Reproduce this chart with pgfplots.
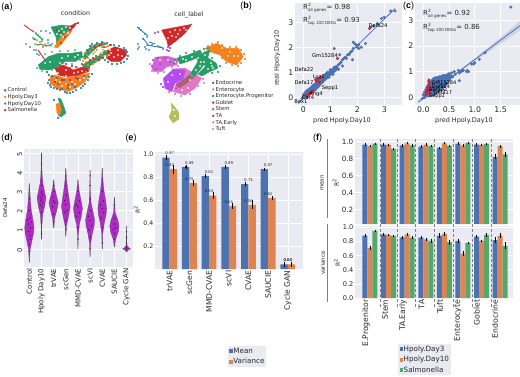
\documentclass[border=0pt]{standalone}
\usepackage{pgfplots}
\usepackage{fontspec}
\setmainfont{DejaVu Sans}
\newfontfamily\lib{Liberation Sans}
\pgfplotsset{compat=1.18}
\definecolor{bgc}{HTML}{EAEAF2}
\definecolor{sbb}{HTML}{4C72B0}
\definecolor{sbo}{HTML}{DD8452}
\definecolor{sbg}{HTML}{55A868}
\definecolor{sbr}{HTML}{C8242E}
\definecolor{tx}{HTML}{262626}
\definecolor{ublue}{HTML}{1F77B4}
\definecolor{uorange}{HTML}{F5821F}
\definecolor{ugreen}{HTML}{279E68}
\definecolor{ured}{HTML}{D62728}
\definecolor{upurple}{HTML}{AA40FC}
\definecolor{ubrown}{HTML}{8C564B}
\definecolor{upink}{HTML}{E377C2}
\definecolor{uolive}{HTML}{B5BD61}
\definecolor{vio}{RGB}{178,40,200}
\newcommand{\fs}[1]{\fontsize{#1}{#1}\selectfont}
\pgfplotsset{
 sb/.style={scale only axis, anchor=south west, axis background/.style={fill=bgc},
  grid=major, grid style={white,line width=0.6pt}, axis line style={draw=none},
  major tick length=0pt, tick style={draw=none},
  tick label style={text=tx}, /pgf/number format/assume math mode=true,
  xticklabel style={inner sep=1.5pt}, yticklabel style={inner sep=1.5pt}},
 pxa/.style={scale only axis, anchor=south west, at={(0pt,0pt)}, width=520pt, height=376pt,
  xmin=0,xmax=520,ymin=0,ymax=376,y dir=reverse,hide axis,clip=false},
 dot/.style={only marks,mark=*,mark size=#1,forget plot},
 barb/.style={ybar,fill=#1,draw=none},
 err/.style={draw=none,mark=none,forget plot,error bars/y dir=both,error bars/y explicit,
  error bars/error mark=-,
  error bars/error mark options={draw=black,fill=black,mark size=0.9pt,line width=0.35pt},
  error bars/error bar style={draw=black,line width=0.5pt}},
 nnc/.style={nodes near coords={\pgfmathprintnumber[fixed,fixed zerofill,precision=2,assume math mode=true]{\pgfplotspointmeta}},
  every node near coord/.append style={font=\fs{3.8},text=tx,inner sep=1pt,yshift=1.5pt}},
 umleg/.style={legend style={draw=none,fill=none,inner sep=0pt,font=\fs{5.3}\color{tx},anchor=north west,
  row sep=1.4pt,column sep=1.5pt,nodes={inner sep=0pt,text height=4.2pt,text depth=1pt},
  cells={anchor=west}},legend cell align=left},
 boxleg/.style={legend cell align=left,legend image code/.code={\path[draw=none,##1] (1pt,-2pt) rectangle (4.5pt,2pt);},
  legend style={draw=none,fill=bgc,inner sep=1.5pt,font=\fs{7.2}\color{tx},anchor=north west,
  row sep=2.9pt,nodes={inner sep=0.5pt,text height=5.2pt,text depth=1.2pt},cells={anchor=west}}},
}
\begin{document}
\begin{tikzpicture}
% ---------- (a) left umap
\begin{axis}[pxa,umleg,legend style={at={(axis cs:4,87.5)}}]
\addlegendimage{only marks,mark=*,mark size=1pt,color=ublue}\addlegendentry{Control}
\addlegendimage{only marks,mark=*,mark size=1pt,color=uorange}\addlegendentry{Hpoly.Day3}
\addlegendimage{only marks,mark=*,mark size=1pt,color=ugreen}\addlegendentry{Hpoly.Day10}
\addlegendimage{only marks,mark=*,mark size=1pt,color=ured}\addlegendentry{Salmonella}
\addplot[fill=ugreen,draw=ugreen,forget plot] coordinates {(38.3,65)(48.3,56.7)(58.3,53.3)(70,53.3)(81.7,51.7)(83.3,56.7)(75,61.7)(65,61.7)(55,68.3)(48.3,70)(40,69.3)} --cycle;
\addplot[fill=ugreen,draw=ugreen,forget plot] coordinates {(51,27)(62,25)(70,26)(66,35)(60,42)(57,47)(56,37)} --cycle;
\addplot[fill=uorange,draw=uorange,forget plot] coordinates {(50,76.7)(55,75)(65,78.3)(78.3,75)(90,73.3)(85,81.7)(78.3,86.7)(68.3,91.7)(56.7,88.3)(50,83.3)} --cycle;
\addplot[fill=ured,draw=ured,forget plot] coordinates {(55,68.3)(63.3,65)(73.3,70)(83.3,66.7)(90,66.7)(88.3,71.7)(78.3,75)(66.7,76.7)(58.3,75)} --cycle;
\addplot[fill=ured,draw=ured,forget plot] coordinates {(105,51.7)(115,46.7)(125,50)(126.7,55)(120,61.7)(111.7,61.7)(106.7,58.3)} --cycle;
\addplot[fill=uorange,draw=uorange,forget plot] coordinates {(55,46)(60,38)(70,30)(72,31)(63,42)(57,48)} --cycle;
\addplot[fill=ured,draw=ured,forget plot] coordinates {(70,26)(77,23)(74,27)(70,31)(68,29)} --cycle;
\addplot[fill=ugreen,draw=ugreen,forget plot] coordinates {(58,98)(61,99)(64,107)(66,113)(61,117)(58,115)(62,110)(60,105)} --cycle;
\addplot[fill=uorange,draw=uorange,forget plot] coordinates {(56,104)(60,103)(61,110)(60,115)(57,113)} --cycle;
\addplot[fill=ugreen,draw=none,forget plot] coordinates {(82,56)(88,49)(95,44)(104,42)(108,44)(98,47)(91,53)(85,60)} --cycle;
\addplot[fill=ugreen,draw=none,forget plot] coordinates {(82,65)(90,60)(98,56)(105,50)(108,54)(100,60)(90,66)(86,69)} --cycle;
\addplot[color=ured,line width=0.9pt,forget plot] coordinates {(24,25)(34,32)};
\addplot[color=ugreen,line width=0.9pt,forget plot] coordinates {(35,33)(43,40)};
\addplot[color=ugreen,line width=0.9pt,forget plot] coordinates {(33,39)(36,40)};
\addplot[color=ugreen,line width=0.9pt,forget plot] coordinates {(34,44)(52,46)};
\addplot[color=ured,line width=0.9pt,forget plot] coordinates {(38,50)(45,60)};
\addplot[dot=0.8pt,color=uorange] coordinates {(84,58)(87,55)(90,51)(93,48)(96,46)(100,44)(104,43)(108,46)(88,65)(92,60)(96,61)(100,55)(103,56)(86,62)(95,52)(106,47)(102,47)(89,69)(86,72)(91,46)(85,53)(83,61)(88,58)(93,54)(97,50)(101,53)(106,51)(98,44)(107,56)(93,64)};
\addplot[dot=0.8pt,color=ublue] coordinates {(92,44)(97,43)(102,42)(107,43)(111,45)(127,52)(128,56)(127,59)(124,62)(121,63)(117,64)(112,64)(108,62)(105,60)(90,46)(87,50)(85,84)(81,88)(76,90)(70,93)(65,92)(60,90)(54,88)(50,85)(49,80)(92,74)(89,77)(54,100)(58,118)(114,45)(119,46)(124,48)(126,50)(88,80)(83,86)(73,92)(67,93)(57,89)(51,87)(48,83)(52,76)(58,84)(64,80)(72,84)(78,79)(84,76)(68,88)(62,89)(75,87)(57,78)(47,72)(49,75)};
\addplot[dot=0.8pt,color=ured] coordinates {(95,47)(100,45)(104,47)(96,56)(93,58)(90,60)(99,60)(103,58)(86,69)(82,64)(76,67)(72,66)(70,68)(66,64)(60,66)(61,43)(65,37)(60,32)(57,30)(75,24)(78,23)(110,45)(103,50)(62,80)(70,80)(76,78)(55,82)(68,85)};
\addplot[dot=0.55pt,color=white] coordinates {(70,28)(66,27)(62,29)(59,31)(64,32)(68,33)(61,35)(63,37)(57,34)(72,52)(58,73)(66,70)(74,73)(82,71)(60,82)(66,84)(72,82)(80,80)(56,80)(84,78)(110,50)(118,50)(122,56)(114,57)(109,55)(98,51)(95,54)(101,51)(103,50)(100,49)(97,53)(92,55)(105,49)(62,47)(75,57)(62,58)(50,62)(45,63)(68,56)(78,55)(70,87)(62,86)(75,84)(99,52)(102,53)(96,52)(118,55)(111,53)(105,56)(83,55)(60,63)(66,76)(78,72)};
\addplot[dot=0.65pt,color=ugreen] coordinates {(36,33)(38,35)(40,37)(42,39)(33,38)(35,39)(48,43)(50,45)(52,44)(40,42)(34,50)(36,50)(37,54)(39,55)(42,41)(46,46)(26,44)(37,68)(42,71)(47,72)(52,70)(58,68)(45,54)(52,52)(60,51)(68,51)(75,50)(63,63)(72,64)(80,60)};
\addplot[dot=0.65pt,color=uorange] coordinates {(38,45)(43,45)(37,40)(45,44)(55,47)(41,44)};
\addplot[dot=0.6pt,color=ublue] coordinates {(46,31)(50,33)(41,31)(30,47)(48,40)(43,47)};
\end{axis}
% ---------- (a) right umap
\begin{axis}[pxa,umleg,legend style={at={(axis cs:212,80)}}]
\addlegendimage{only marks,mark=*,mark size=1pt,color=ublue}\addlegendentry{Endocrine}
\addlegendimage{only marks,mark=*,mark size=1pt,color=uorange}\addlegendentry{Enterocyte}
\addlegendimage{only marks,mark=*,mark size=1pt,color=ugreen}\addlegendentry{Enterocyte.Progenitor}
\addlegendimage{only marks,mark=*,mark size=1pt,color=ured}\addlegendentry{Goblet}
\addlegendimage{only marks,mark=*,mark size=1pt,color=upurple}\addlegendentry{Stem}
\addlegendimage{only marks,mark=*,mark size=1pt,color=ubrown}\addlegendentry{TA}
\addlegendimage{only marks,mark=*,mark size=1pt,color=upink}\addlegendentry{TA.Early}
\addlegendimage{only marks,mark=*,mark size=1pt,color=uolive}\addlegendentry{Tuft}
\addplot[fill=ured,draw=ured,forget plot] coordinates {(161.7,30)(191.7,24.3)(185,33.3)(175,41.7)(168.3,46.7)(166.7,40)} --cycle;
\addplot[fill=uorange,draw=uorange,forget plot] coordinates {(205,48.3)(216.7,43.3)(226.7,48.3)(238.3,48.3)(243.3,56.7)(236.7,65)(226.7,61.7)(220,55)(210,51.7)} --cycle;
\addplot[fill=upink!70!upurple,draw=upink!70!upurple,forget plot] coordinates {(151.7,68.3)(155,57.3)(166.7,56)(178.3,59.3)(176.7,65)(166.7,66.7)(161.7,71.7)(154,71.7)} --cycle;
\addplot[fill=upink,draw=upink,forget plot] coordinates {(172,69)(185,68)(201.7,78.3)(195,88.3)(185,95)(173.3,91.7)(176.7,83.3)} --cycle;
\addplot[fill=upurple!80!upink,draw=upurple!80!upink,forget plot] coordinates {(163.3,78.3)(173.3,69.3)(185,70)(183.3,78.3)(175,83.3)(171.7,91.7)(165,88.3)} --cycle;
\addplot[fill=ubrown,fill opacity=0.65,draw=none,forget plot] coordinates {(175,85)(190,75)(194,78)(180,88)} --cycle;
\addplot[fill=ugreen,draw=ugreen,forget plot] coordinates {(177,58)(188,55)(200,50)(203,55)(192,60)(180,64)} --cycle;
\addplot[fill=ugreen,draw=ugreen,forget plot] coordinates {(191,73)(197,63)(204,52)(210,50)(207,60)(200,70)(194,77)} --cycle;
\addplot[fill=ugreen,draw=ugreen,forget plot] coordinates {(196,56)(205,56)(216,63)(218,68)(209,72)(202,76)(198,74)(206,66)(198,62)} --cycle;
\addplot[fill=uolive,draw=uolive,forget plot] coordinates {(171,103)(174,106)(179,113)(179,119)(173,123)(169,117)(172,110)} --cycle;
\addplot[color=ublue,line width=0.8pt,forget plot] coordinates {(137,27)(148,36)};
\addplot[color=ublue,line width=0.8pt,forget plot] coordinates {(143,38)(149,46)};
\addplot[color=ublue,line width=0.8pt,forget plot] coordinates {(146,45)(164,48)};
\addplot[color=ublue,line width=0.8pt,forget plot] coordinates {(149,42)(155,44)};
\addplot[dot=0.55pt,color=white] coordinates {(170,32)(175,30)(180,30)(172,36)(178,34)(168,38)(184,28)(215,55)(212,59)(216,58)(220,60)(222,64)(211,63)(222,48)(230,52)(234,56)(228,56)(238,56)(186,60)(192,57)(198,58)(201,62)(204,62)(200,66)(208,69)(212,66)(175,62)(160,60)(168,60)(172,75)(168,82)(180,74)(190,80)(188,88)(182,90)(174,110)(175,116)(213,68)(196,70)(205,55)(183,59)(176,37)(186,30)};
\addplot[dot=0.75pt,color=upurple] coordinates {(168,47)(170,48)(167,50)(169,51)(155,33)(158,32)(153,60)(158,58)(152,66)(156,69)(160,64)(165,58)(170,62)(176,88)(178,74)(161,84)(163,87)};
\addplot[dot=0.75pt,color=upink] coordinates {(150,64)(152,71)(158,73)(164,72)(172,67)(178,66)(169,92)(175,94)(181,96)(190,94)(198,86)(203,79)(198,74)(204,83)};
\addplot[dot=0.75pt,color=ugreen] coordinates {(175,60)(180,56)(186,53)(194,51)(204,49)(208,48)(174,63)(188,77)(190,75)(212,73)(218,72)(220,66)(212,58)};
\addplot[dot=0.75pt,color=uorange] coordinates {(208,46)(212,44)(218,42)(222,45)(230,47)(236,47)(241,50)(244,54)(245,59)(241,63)(238,66)(232,65)(226,63)(222,58)};
\addplot[dot=0.6pt,color=ublue] coordinates {(139,28)(141,30)(145,34)(147,37)(138,44)(139,47)(138,49)(145,47)(146,49)(149,50)(152,45)(158,46)(160,47)(163,49)(143,39)};
\end{axis}
% ---------- (b)
\begin{axis}[sb,at={(295pt,271pt)},width=107pt,height=102pt,xmin=-0.307,xmax=3.655,ymin=-0.31,ymax=3.77,
 xtick={0,1,2,3},ytick={0,1,2,3},tick label style={font=\fs{7.8}}]
\addplot[color=sbb,line width=5pt,forget plot] coordinates {(0.03,0.06)(1.25,1.2)};
\addplot[dot=1.35pt,color=sbb] coordinates {(-0.05,-0.05)(0,0.02)(0.02,0.1)(0.05,0)(0.05,0.16)(0.1,0.05)(0.1,0.22)(0.13,0.12)(0.15,0)(0.15,0.28)(0.2,0.1)(0.2,0.3)(0.22,0.2)(0.25,0.14)(0.25,0.35)(0.3,0.18)(0.3,0.4)(0.33,0.28)(0.35,0.22)(0.35,0.45)(0.4,0.28)(0.4,0.5)(0.43,0.38)(0.45,0.3)(0.45,0.55)(0.5,0.38)(0.5,0.6)(0.53,0.48)(0.55,0.42)(0.55,0.68)(0.6,0.48)(0.6,0.72)(0.63,0.6)(0.65,0.55)(0.65,0.78)(0.7,0.6)(0.7,0.82)(0.73,0.72)(0.75,0.66)(0.75,0.85)(0.8,0.72)(0.8,0.9)(0.83,0.82)(0.85,0.76)(0.85,0.95)(0.9,0.85)(0.9,1.0)(0.95,0.9)(0.95,0.8)(1.0,0.95)(1.0,1.1)(1.05,1.02)(1.1,1.08)(1.1,0.92)(1.15,1.05)(1.15,1.2)(1.2,1.15)(1.25,1.2)(1.3,1.3)(1.3,1.12)(1.35,1.35)(1.4,1.4)(1.45,1.5)(1.5,1.55)(1.55,1.6)(1.6,1.55)(1.65,1.7)(1.7,1.72)(1.75,1.8)(1.8,1.85)(1.85,1.95)(1.85,2.2)(1.9,2.15)(1.95,2.1)(2.0,2.0)(2.05,1.95)(2.05,2.1)(2.15,2.0)(2.3,2.15)(1.15,1.95)(1.35,1.7)(1.82,1.5)(1.45,1.25)(2.5,2.8)(2.6,2.85)(2.75,2.95)(2.9,3.15)(3.0,3.2)(3.24,3.45)(3.4,3.45)};
\addplot[color=sbb,line width=0.8pt,forget plot] coordinates {(-0.2,-0.25)(3.4,3.55)};
\addplot[dot=1.35pt,color=sbr] coordinates {(2.45,2.75)(1.27,1.55)(0.45,0.7)(0.5,0.65)(0.55,0.75)(0.6,0.6)(0.65,0.8)(0.15,0.05)(0.2,0.12)(0.25,0.15)(0.3,0.2)(0.35,0.25)(0.12,0.08)};
\end{axis}
% ---------- (c)
\begin{axis}[sb,at={(415pt,271pt)},width=105pt,height=102pt,xmin=-0.161,xmax=1.878,ymin=-0.30,ymax=3.68,
 xtick={0,0.5,1,1.5},xticklabels={0.0,0.5,1.0,1.5},ytick={0,1,2,3},tick label style={font=\fs{7.8}}]
\addplot[fill=sbb,fill opacity=0.18,draw=none,forget plot] coordinates {(-0.1,-0.2)(0.5,0.76)(1,1.52)(1.5,2.34)(1.88,2.98)(1.88,2.62)(1.5,2.08)(1,1.42)(0.5,0.7)(-0.1,-0.26)} --cycle;
\addplot[fill=sbb,draw=sbb,forget plot] coordinates {(0,0)(0.08,0.5)(0.2,0.78)(0.45,0.9)(0.58,0.85)(0.45,0.45)(0.2,0.05)} --cycle;
\addplot[color=sbb,line width=0.8pt,forget plot] coordinates {(-0.1,-0.18)(1.88,2.8)};
\addplot[dot=1.35pt,color=sbb] coordinates {(-0.02,-0.05)(0,0.1)(0.02,0.2)(0.03,0)(0.05,0.3)(0.05,0.1)(0.07,0.4)(0.08,0.2)(0.1,0.5)(0.1,0.05)(0.12,0.3)(0.13,0.6)(0.15,0.15)(0.15,0.45)(0.17,0.65)(0.2,0.1)(0.2,0.3)(0.2,0.55)(0.21,0.74)(0.25,0.2)(0.25,0.45)(0.27,0.75)(0.3,0.3)(0.3,0.6)(0.32,0.8)(0.35,0.4)(0.35,0.65)(0.38,0.85)(0.4,0.5)(0.4,0.72)(0.42,0.85)(0.45,0.6)(0.45,0.8)(0.48,0.9)(0.5,0.75)(0.5,0.92)(0.52,0.85)(0.55,0.95)(0.57,0.8)(0.6,1.0)(0.62,0.9)(0.7,0.65)(0.68,1.05)(0.7,0.95)(0.73,1.0)(0.75,1.02)(0.78,1.05)(0.84,1.0)(0.85,1.05)(0.88,1.0)(0.94,1.3)(0.98,1.3)(1.0,1.35)(1.09,1.48)(1.2,1.74)(1.7,3.52)};
\addplot[dot=1.2pt,color=sbr] coordinates {(0.05,0.1)(0.07,0.2)(0.09,0.28)(0.08,0.38)(0.1,0.45)(0.12,0.55)(0.11,0.68)(0.13,0.3)(0.14,0.42)(0.06,0.25)(0.12,0.18)(0.1,0.62)};
\addplot[dot=0.35pt,color=black] coordinates {(0.15,0.3)(0.2,0.25)(0.25,0.15)(0.3,0.2)(0.35,0.25)(0.4,0.3)(0.18,0.55)(0.25,0.6)(0.3,0.65)(0.35,0.5)(0.4,0.45)(0.45,0.55)(0.2,0.4)(0.3,0.4)};
\end{axis}
% ---------- (d)
\begin{axis}[sb,at={(24pt,109pt)},width=109pt,height=118pt,xmin=-0.44,xmax=8.53,ymin=-0.94,ymax=5.2,
 xtick={0,...,8},xticklabels={Control,Hpoly Day10,trVAE,scGen,MMD-CVAE,scVI,CVAE,SAUCIE,Cycle GAN},
 ytick={0,...,5},
 xticklabel style={rotate=90,anchor=east,font=\fs{7},yshift=0pt},
 yticklabel style={rotate=90,anchor=south,font=\fs{6.8},xshift=-1pt},
 clip=false,
 vi/.style={fill=vio,draw=black!70,line width=0.25pt,forget plot}]
\addplot[vi] coordinates {(-.01,-.7)(-.03,-.4)(-.07,0)(-.2,.4)(-.34,.8)(-.38,1.1)(-.3,1.5)(-.16,2)(-.09,2.5)(-.04,3)(-.01,3.4)(.01,3.4)(.04,3)(.09,2.5)(.16,2)(.3,1.5)(.38,1.1)(.34,.8)(.2,.4)(.07,0)(.03,-.4)(.01,-.7)} --cycle;
\addplot[vi] coordinates {(.99,.5)(.97,1.2)(.9,1.8)(.75,2.2)(.64,2.65)(.75,3)(.88,3.4)(.94,3.8)(.98,4.3)(.99,5)(1.01,5)(1.02,4.3)(1.06,3.8)(1.12,3.4)(1.25,3)(1.36,2.65)(1.25,2.2)(1.1,1.8)(1.03,1.2)(1.01,.5)} --cycle;
\addplot[vi] coordinates {(1.98,1.1)(1.92,1.6)(1.75,2)(1.62,2.4)(1.78,2.8)(1.93,3.2)(1.99,3.6)(2.01,3.6)(2.07,3.2)(2.22,2.8)(2.38,2.4)(2.25,2)(2.08,1.6)(2.02,1.1)} --cycle;
\addplot[vi] coordinates {(2.99,.65)(2.94,1.2)(2.78,1.7)(2.64,2.2)(2.75,2.7)(2.87,3.2)(2.95,3.7)(2.99,4.2)(3.01,4.2)(3.05,3.7)(3.13,3.2)(3.25,2.7)(3.36,2.2)(3.22,1.7)(3.06,1.2)(3.01,.65)} --cycle;
\addplot[vi] coordinates {(3.99,0)(3.97,.7)(3.88,1.3)(3.72,1.7)(3.63,2.1)(3.74,2.5)(3.9,3)(3.99,3.6)(4.01,3.6)(4.1,3)(4.26,2.5)(4.37,2.1)(4.28,1.7)(4.12,1.3)(4.03,.7)(4.01,0)} --cycle;
\addplot[vi] coordinates {(4.99,-.4)(4.95,.3)(4.82,.8)(4.67,1.2)(4.63,1.5)(4.75,1.9)(4.92,2.4)(4.97,3)(4.99,4.1)(5.01,4.1)(5.03,3)(5.08,2.4)(5.25,1.9)(5.37,1.5)(5.33,1.2)(5.18,.8)(5.05,.3)(5.01,-.4)} --cycle;
\addplot[vi] coordinates {(5.99,0)(5.96,.8)(5.82,1.4)(5.68,1.8)(5.64,2.1)(5.72,2.5)(5.85,3)(5.95,3.6)(5.99,4.2)(6.01,4.2)(6.05,3.6)(6.15,3)(6.28,2.5)(6.36,2.1)(6.32,1.8)(6.18,1.4)(6.04,.8)(6.01,0)} --cycle;
\addplot[vi] coordinates {(6.99,.1)(6.9,.5)(6.68,.9)(6.62,1.2)(6.72,1.5)(6.94,1.9)(6.99,2.7)(7.01,2.7)(7.06,1.9)(7.28,1.5)(7.38,1.2)(7.32,.9)(7.1,.5)(7.01,.1)} --cycle;
\addplot[vi] coordinates {(7.98,-.15)(7.85,-.05)(7.67,0)(7.8,.05)(7.94,.15)(7.98,.3)(7.99,1.2)(8.01,1.2)(8.02,.3)(8.06,.15)(8.2,.05)(8.33,0)(8.15,-.05)(8.02,-.15)} --cycle;
\addplot[dot=0.4pt,color=black!85] coordinates {(0,-.1)(0,.2)(.05,.7)(-.1,.9)(.1,1.1)(-.05,1.3)(.05,1.6)(-.02,2)(0,2.6)(.1,.5)(-.15,1.5)(.2,1.4)
(1,.8)(1,1.4)(1,1.9)(.9,2.3)(1.1,2.4)(1,2.6)(.9,2.7)(1.1,2.8)(1,3)(.95,2.5)(1.05,2.2)(1,3.3)(1,3.6)(1,4)(1,4.4)(1.02,2.9)
(2,1.4)(2,1.8)(1.9,2.2)(2.1,2.4)(2,2.5)(1.95,2.7)(2.05,3)(2,3.3)
(3,1)(3,1.5)(2.9,1.9)(3.1,2)(3,2.3)(2.9,2.5)(3.05,2.8)(3,3.3)(3,3.8)
(4,.5)(4,1.1)(3.9,1.7)(4.1,1.9)(4,2.2)(3.85,2.3)(4.1,2.5)(4,3)
(5,0)(5,.6)(4.9,1)(5.1,1.2)(5,1.5)(4.85,1.7)(5.05,2)(5,2.6)(5,3.3)(5,3.8)
(6,.3)(6,1.1)(5.9,1.6)(6.1,1.9)(6,2.1)(5.85,2.3)(6.1,2.5)(6,3)(6,3.6)
(7,.5)(7,.8)(6.9,1)(7.1,1.1)(7,1.3)(7,1.6)(7,2.3)
(8,0)(8,.1)(8,.3)(8,.6)(8,.9)};
\end{axis}
% ---------- (e)
\begin{axis}[sb,boxleg,at={(155pt,107pt)},width=148pt,height=117pt,xmin=-0.746,xmax=6.77,ymin=0,ymax=1.02,
 xtick={0,...,6},xticklabels={trVAE,scGen,MMD-CVAE,scVI,CVAE,SAUCIE,Cycle GAN},
 ytick={0.2,0.4,0.6,0.8,1.0},
 yticklabels={0.2,0.4,0.6,0.8,1.0},
 xticklabel style={rotate=90,anchor=east,font=\fs{7.6}},
 yticklabel style={font=\fs{6.2}},
 bar width=7.4pt,
 legend style={at={(0.491,-0.658)}}]
\addlegendimage{fill=sbb}\addlegendentry{Mean}
\addlegendimage{fill=sbo}\addlegendentry{Variance}
\addplot[barb=sbb,nnc,bar shift=-3.7pt,forget plot] coordinates {(0,0.97)(1,0.89)(2,0.81)(3,0.89)(4,0.74)(5,0.87)(6,0.04)};
\addplot[barb=sbo,nnc,bar shift=3.7pt,forget plot] coordinates {(0,0.87)(1,0.75)(2,0.64)(3,0.55)(4,0.56)(5,0.62)(6,0.04)};
\addplot[err] coordinates {(-0.188,0.97)+-(0,0.012)(0.812,0.89)+-(0,0.008)(1.812,0.81)+-(0,0.008)(2.812,0.89)+-(0,0.008)(3.812,0.74)+-(0,0.012)(4.812,0.87)+-(0,0.005)(5.812,0.04)+-(0,0.012)};
\addplot[err] coordinates {(0.188,0.87)+-(0,0.03)(1.188,0.75)+-(0,0.02)(2.188,0.64)+-(0,0.025)(3.188,0.55)+-(0,0.015)(4.188,0.56)+-(0,0.03)(5.188,0.62)+-(0,0.01)(6.188,0.04)+-(0,0.012)};
\end{axis}
% ---------- (f) mean
\begin{axis}[sb,at={(355pt,152pt)},width=158pt,height=85pt,xmin=-0.806,xmax=7.69,ymin=0.03,ymax=1.03,
 xtick={-1},ytick={0.2,0.4,0.6,0.8,1.0},yticklabels={0.2,0.4,0.6,0.8,1.0},
 yticklabel style={font=\fs{7.2}},bar width=5pt]
\addplot[barb=sbb,bar shift=-5pt,forget plot] coordinates {(0,0.965)(1,0.965)(2,0.955)(3,0.94)(4,0.925)(5,0.975)(6,0.965)(7,0.82)};
\addplot[barb=sbo,bar shift=0pt,forget plot] coordinates {(0,0.945)(1,0.96)(2,0.98)(3,0.965)(4,0.98)(5,0.955)(6,0.96)(7,0.945)};
\addplot[barb=sbg,bar shift=5pt,forget plot] coordinates {(0,0.975)(1,0.91)(2,0.955)(3,0.95)(4,0.95)(5,0.985)(6,0.97)(7,0.85)};
\addplot[err] coordinates {(-0.269,0.965)+-(0,0.004)(0.731,0.965)+-(0,0.004)(1.731,0.955)+-(0,0.004)(2.731,0.94)+-(0,0.004)(3.731,0.925)+-(0,0.005)(4.731,0.975)+-(0,0.004)(5.731,0.965)+-(0,0.004)(6.731,0.82)+-(0,0.018)};
\addplot[err] coordinates {(0,0.945)+-(0,0.004)(1,0.96)+-(0,0.004)(2,0.98)+-(0,0.004)(3,0.965)+-(0,0.004)(4,0.98)+-(0,0.004)(5,0.955)+-(0,0.004)(6,0.96)+-(0,0.004)(7,0.945)+-(0,0.006)};
\addplot[err] coordinates {(0.269,0.975)+-(0,0.003)(1.269,0.91)+-(0,0.004)(2.269,0.955)+-(0,0.004)(3.269,0.95)+-(0,0.004)(4.269,0.95)+-(0,0.004)(5.269,0.985)+-(0,0.003)(6.269,0.97)+-(0,0.003)(7.269,0.85)+-(0,0.018)};
\end{axis}
% ---------- (f) variance
\begin{axis}[sb,boxleg,at={(355pt,78pt)},width=158pt,height=72pt,xmin=-0.806,xmax=7.69,ymin=0,ymax=1.02,
 xtick={-0.215,0.806,1.774,2.78,3.76,4.73,5.74,6.72},
 xticklabels={E.Progenitor,Stem,TA.Early,TA,Tuft,Enterocyte,Goblet,Endocrine},
 ytick={0,0.2,0.4,0.6,0.8,1.0},yticklabels={0.0,0.2,0.4,0.6,0.8,1.0},
 xticklabel style={rotate=90,anchor=east,font=\fs{7.7}},
 yticklabel style={font=\fs{6.6}},bar width=5pt,
 legend style={at={(0.272,-0.64)}},
 xmajorgrids=false]
\addlegendimage{fill=sbb}\addlegendentry{Hpoly.Day3}
\addlegendimage{fill=sbo}\addlegendentry{Hpoly.Day10}
\addlegendimage{fill=sbg}\addlegendentry{Salmonella}
\addplot[barb=sbb,bar shift=-5pt,forget plot] coordinates {(0,0.883)(1,0.903)(2,0.86)(3,0.855)(4,0.885)(5,0.81)(6,0.87)(7,0.82)};
\addplot[barb=sbo,bar shift=0pt,forget plot] coordinates {(0,0.71)(1,0.89)(2,0.90)(3,0.83)(4,0.907)(5,0.63)(6,0.81)(7,0.885)};
\addplot[barb=sbg,bar shift=5pt,forget plot] coordinates {(0,0.95)(1,0.88)(2,0.855)(3,0.81)(4,0.79)(5,0.78)(6,0.895)(7,0.74)};
\addplot[err] coordinates {(-0.269,0.883)+-(0,0.01)(0.731,0.903)+-(0,0.006)(1.731,0.86)+-(0,0.006)(2.731,0.855)+-(0,0.006)(3.731,0.885)+-(0,0.02)(4.731,0.81)+-(0,0.015)(5.731,0.87)+-(0,0.012)(6.731,0.82)+-(0,0.025)};
\addplot[err] coordinates {(0,0.71)+-(0,0.02)(1,0.89)+-(0,0.004)(2,0.90)+-(0,0.006)(3,0.83)+-(0,0.012)(4,0.907)+-(0,0.015)(5,0.63)+-(0,0.025)(6,0.81)+-(0,0.006)(7,0.885)+-(0,0.025)};
\addplot[err] coordinates {(0.269,0.95)+-(0,0.004)(1.269,0.88)+-(0,0.004)(2.269,0.855)+-(0,0.006)(3.269,0.81)+-(0,0.02)(4.269,0.79)+-(0,0.02)(5.269,0.78)+-(0,0.006)(6.269,0.895)+-(0,0.02)(7.269,0.74)+-(0,0.035)};
\end{axis}
% ---------- overlay: separators and texts
\begin{axis}[pxa]
\addplot[gray,densely dashed,line width=0.45pt,forget plot] coordinates {(380,139)(380,309)};
\addplot[gray,densely dashed,line width=0.45pt,forget plot] coordinates {(397.7,139)(397.7,309)};
\addplot[gray,densely dashed,line width=0.45pt,forget plot] coordinates {(415.7,139)(415.7,309)};
\addplot[gray,densely dashed,line width=0.45pt,forget plot] coordinates {(434.3,139)(434.3,309)};
\addplot[gray,densely dashed,line width=0.45pt,forget plot] coordinates {(453.3,139)(453.3,309)};
\addplot[gray,densely dashed,line width=0.45pt,forget plot] coordinates {(472,139)(472,309)};
\addplot[gray,densely dashed,line width=0.45pt,forget plot] coordinates {(491,139)(491,309)};
\addplot[gray,line width=0.5pt,forget plot] coordinates {(327,139)(327,218)};
\addplot[gray,line width=0.5pt,forget plot] coordinates {(327,224)(327,302)};
% panel labels
\node[font=\lib\fs{9},text=black] at (axis cs:7,7) {(\textbf{a})};
\node[font=\lib\fs{9},text=black] at (axis cs:246,6.5) {(\textbf{b})};
\node[font=\lib\fs{9},text=black] at (axis cs:408.7,6.5) {(\textbf{c})};
\node[font=\lib\fs{9},text=black] at (axis cs:7,138) {(\textbf{d})};
\node[font=\lib\fs{9},text=black] at (axis cs:131,138) {(\textbf{e})};
\node[font=\lib\fs{9},text=black] at (axis cs:317.7,137.7) {(\textbf{f})};
% titles
\node[font=\fs{6.3},text=tx] at (axis cs:75.5,13.5) {condition};
\node[font=\fs{6.3},text=tx] at (axis cs:189,14.5) {cell\_label};
% (b) text
\node[font=\fs{6.5},text=tx] at (axis cs:342,120.5) {pred Hpoly.Day10};
\node[font=\fs{6.5},text=tx,rotate=90] at (axis cs:277,58) {real Hpoly.Day10};
\node[font=\fs{7},text=tx,anchor=west,inner sep=0pt] at (axis cs:303,8) {R\rlap{\raisebox{3pt}{\fs{4.4}2}}\raisebox{-1.6pt}{\fs{4.1}all genes}= 0.98};
\node[font=\fs{7},text=tx,anchor=west,inner sep=0pt] at (axis cs:303,21) {R\rlap{\raisebox{3pt}{\fs{4.4}2}}\raisebox{-1.6pt}{\fs{4.1}top 100 DEGs}= 0.93};
\node[font=\fs{5.2},text=black] at (axis cs:378,26) {Defa24};
\node[font=\fs{5.2},text=black] at (axis cs:325,56) {Gm15284};
\node[font=\fs{5.2},text=black] at (axis cs:304,70) {Defa22};
\node[font=\fs{5.2},text=black] at (axis cs:319,76.7) {Lyz1};
\node[font=\fs{5.2},text=black] at (axis cs:304,83) {Defa17};
\node[font=\fs{5.2},text=black] at (axis cs:330,87.7) {Sepp1};
\node[font=\fs{5.2},text=black] at (axis cs:316,94) {Ang4};
\node[font=\fs{5.2},text=black] at (axis cs:308,98) {Car4};
\node[font=\fs{5.2},text=black] at (axis cs:301,102) {Bex1};
% (c) text
\node[font=\fs{6.5},text=tx] at (axis cs:464,120.5) {pred Hpoly.Day10};
\node[font=\fs{7},text=tx,anchor=west,inner sep=0pt] at (axis cs:423,14) {R\rlap{\raisebox{3pt}{\fs{4.4}2}}\raisebox{-1.6pt}{\fs{4.1}all genes}= 0.92};
\node[font=\fs{7},text=tx,anchor=west,inner sep=0pt] at (axis cs:423,27.7) {R\rlap{\raisebox{3pt}{\fs{4.4}2}}\raisebox{-1.6pt}{\fs{4.1}top 100 DEGs}= 0.86};
\node[font=\fs{5},text=black] at (axis cs:444,83) {Gm15284};
\node[font=\fs{5},text=black] at (axis cs:441,87) {Defa24};
\node[font=\fs{5},text=black] at (axis cs:438,90) {Defa22};
\node[font=\fs{5},text=black] at (axis cs:443,93) {Defa17};
\node[font=\fs{5},text=black] at (axis cs:437,96) {Sepp1};
% (d),(e),(f) axis titles
\node[font=\fs{5.5},text=tx,rotate=90] at (axis cs:5,208) {Defa24};
\node[font=\fs{6},text=tx,rotate=90] at (axis cs:137,210) {R\textsuperscript{2}};
\node[font=\fs{5.5},text=tx,rotate=90] at (axis cs:322,183) {mean};
\node[font=\fs{5.5},text=tx,rotate=90] at (axis cs:322.7,263) {variance};
\node[font=\fs{6},text=tx,rotate=90] at (axis cs:335.7,183) {R\textsuperscript{2}};
\node[font=\fs{6},text=tx,rotate=90] at (axis cs:337,263) {R\textsuperscript{2}};
\end{axis}
\pgfresetboundingbox
\path[use as bounding box] (0pt,0pt) rectangle (520pt,376pt);
\end{tikzpicture}
\end{document}
